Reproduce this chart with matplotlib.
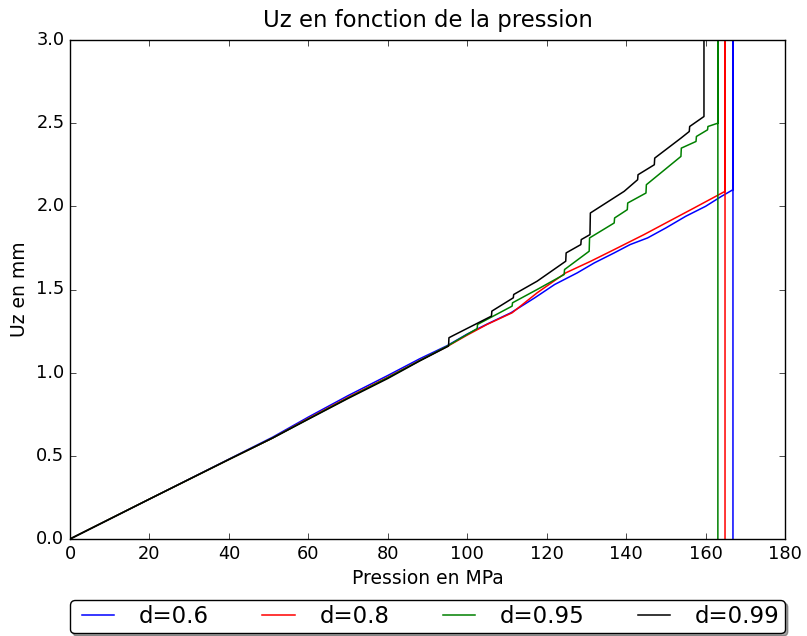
import numpy as np
import matplotlib
matplotlib.use("Agg")
from matplotlib import pyplot as plt

# values
labels = ["d=0.6", "d=0.8", "d=0.95", "d=0.99"]
colors = ["b", "r", "g", "k"]

p_06 = [0, 20, 40, 51, 60, 70, 80, 88, 95, 100, 105, 111, 117, 122, 127.7,
        132, 137, 141, 145.4, 150, 155, 160, 164, 166.9, 166.9, 166.9]
u_06 = [0, 0.24, 0.48, 0.612, 0.733, 0.862, 0.983, 1.083, 1.163, 1.232, 1.292,
        1.36, 1.45, 1.53, 1.60, 1.66, 1.72, 1.77, 1.81, 1.87, 1.94, 2.00,
        2.06, 2.10, 10, -10]

p_08 = [0, 20, 40, 51, 60, 70, 80, 88, 95, 100, 105, 111.3, 117.6, 124.8,
        131.1, 137, 144.5, 150, 157.1, 164.9, 164.9, 164.9]
u_08 = [0, 0.24, 0.478, 0.607, 0.725, 0.852, 0.973, 1.073, 1.158, 1.226, 1.29,
        1.36, 1.48, 1.60, 1.67, 1.74, 1.83, 1.90, 1.99, 2.09, 10, -10]

p_095 = [0, 20, 40, 51, 60, 70, 80, 88, 95, 100, 102.5, 102.6, 111.3, 111.4,
         117.6, 124.4, 124.5, 130.7, 130.8, 137, 137.1, 140.3, 140.4, 145,
         145.1, 153.8, 153.9, 157.6, 157.7, 160.5, 160.6, 163.1, 163.1, 163.1]
u_095 = [0, 0.24, 0.478, 0.607, 0.722, 0.848, 0.97, 1.072, 1.16, 1.23, 1.265,
         1.29, 1.40, 1.42, 1.50, 1.59, 1.62, 1.73, 1.81, 1.90, 1.93, 1.98,
         2.02, 2.08, 2.13, 2.30, 2.35, 2.39, 2.42, 2.46, 2.48, 2.50, 10, -10]

p_099 = [0, 20, 40, 51, 60, 70, 80, 88, 95.3, 95.4, 96.2, 106.1, 106.2,
         111.6, 111.7, 117.6, 124.8, 124.9, 128.6, 128.7, 130.9, 131.0, 139.5,
         142.9, 143.0, 147.1, 147.2, 153.8, 155.9, 156.0, 159.6, 159.6]
u_099 = [0, 0.24, 0.478, 0.607, 0.72, 0.845, 0.965, 1.07, 1.16, 1.21, 1.22,
         1.34, 1.37, 1.45, 1.47, 1.55, 1.67, 1.72, 1.77, 1.80, 1.83, 1.96,
         2.09, 2.16, 2.19, 2.25, 2.29, 2.41, 2.45, 2.48, 2.54, 10]

pressures = [p_06, p_08, p_095, p_099]
uz = [u_06, u_08, u_095, u_099]

plt.style.use("classic")
fig = plt.figure(figsize=(8.07, 6.36), dpi=100, facecolor="white")
ax = fig.add_axes([70 / 807., 97 / 636., 715 / 807., 499 / 636.])

for p, u, c, lab in zip(pressures, uz, colors, labels):
    ax.plot(p, u, color=c, label=lab, linewidth=1.1)

ax.set_xlim(0, 180)
ax.set_ylim(0, 3.0)
ax.set_xticks(np.arange(0, 181, 20))
ax.set_yticks(np.arange(0, 3.01, 0.5))
ax.tick_params(labelsize=12.8)
ax.set_title("Uz en fonction de la pression", fontsize=16.4, pad=9.5)
ax.set_xlabel("Pression en MPa", fontsize=13.5)
ax.set_ylabel("Uz en mm", fontsize=13.5)

# legend box sits under the axes, stretched to the axes width
ax.legend(loc="upper left", bbox_to_anchor=(0., -0.1225, 1., 0.),
          ncol=4, mode="expand", borderaxespad=0., borderpad=0.22,
          fancybox=True, shadow=True, fontsize=16.5)

fig.savefig("out.png", dpi=100, facecolor="white")
